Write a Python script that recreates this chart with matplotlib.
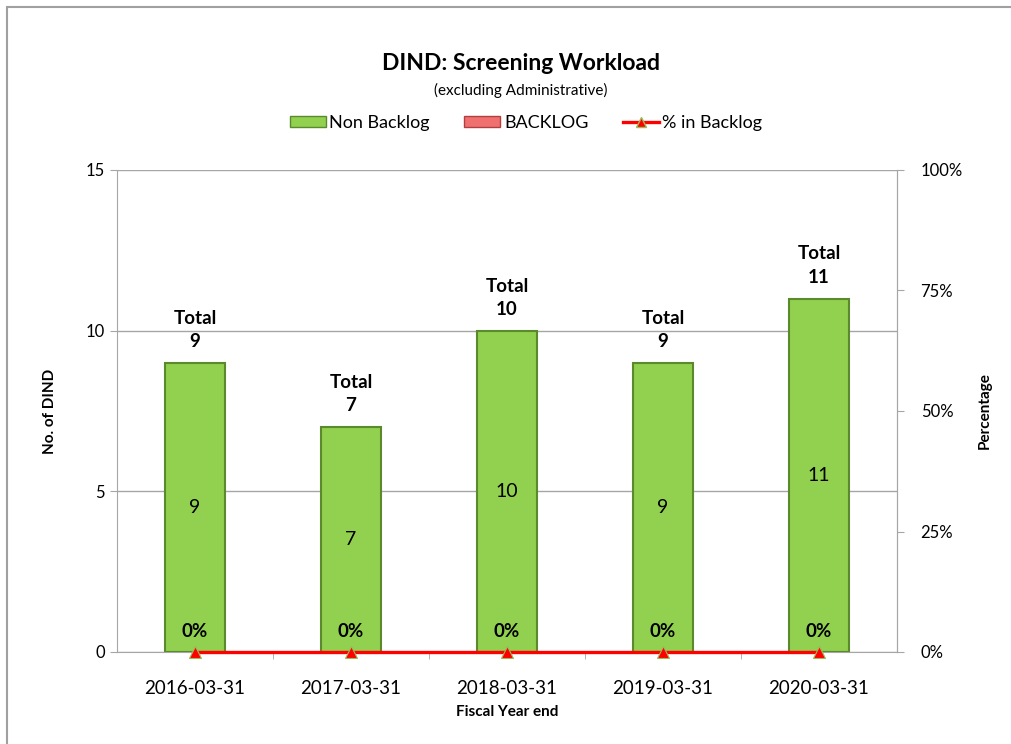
import matplotlib.pyplot as plt
from matplotlib.patches import Rectangle
from matplotlib.lines import Line2D
from matplotlib.ticker import FuncFormatter, FixedLocator

years = ["2016-03-31", "2017-03-31", "2018-03-31", "2019-03-31", "2020-03-31"]
non_backlog = [9, 7, 10, 9, 11]
backlog = [0, 0, 0, 0, 0]
pct_backlog = [0, 0, 0, 0, 0]

plt.rcParams['font.family'] = ['Lato', 'DejaVu Sans']

fig = plt.figure(figsize=(10.11, 7.44), dpi=100)
fig.patches.append(Rectangle((7 / 1011, -0.01), 1.02, (744 - 7) / 744 + 0.01,
                             transform=fig.transFigure, fill=False,
                             edgecolor='#a0a0a0', linewidth=1.5))

ax = fig.add_axes([117 / 1011, 92 / 744, 780 / 1011, 482 / 744])
x = list(range(len(years)))
totals = [a + b for a, b in zip(non_backlog, backlog)]

ax.bar(x, non_backlog, width=0.39, color='#92d050', edgecolor='#5a8a2c', linewidth=1.5, zorder=3)
ax.bar(x, backlog, bottom=non_backlog, width=0.39, color='#f07070', edgecolor='#b04040',
       linewidth=0, zorder=3)

ax.set_xlim(-0.5, len(years) - 0.5)
ax.set_ylim(0, 15)
ax.set_yticks([0, 5, 10, 15])
ax.set_xticks(x)
ax.set_xticklabels(years)
ax.xaxis.set_minor_locator(FixedLocator([i + 0.5 for i in range(len(years) - 1)]))
ax.grid(axis='y', color='#a6a6a6', linewidth=1, zorder=0)
ax.tick_params(axis='both', labelsize=12, colors='#a6a6a6', labelcolor='black', length=5)
ax.tick_params(axis='x', which='major', length=0, pad=20, labelsize=13.5)
ax.tick_params(axis='x', which='minor', length=5, colors='#a6a6a6')
ax.spines['top'].set_visible(False)
for s in ['left', 'right', 'bottom']:
    ax.spines[s].set_color('#a6a6a6')
ax.set_ylabel('No. of DIND', fontsize=11, fontweight='bold', labelpad=21)
ax.set_xlabel('Fiscal Year end', fontsize=11, fontweight='bold', labelpad=6)

for xi, v, t in zip(x, non_backlog, totals):
    ax.text(xi, v / 2, str(v), ha='center', va='center', fontsize=14, zorder=5)
    ax.text(xi, t + 0.4, f"Total\n{t}", ha='center', va='bottom', fontsize=13.5,
            fontweight='bold', linespacing=1.45, zorder=5)

ax2 = ax.twinx()
ax2.set_ylim(0, 1)
ax2.set_yticks([0, 0.25, 0.5, 0.75, 1.0])
ax2.yaxis.set_major_formatter(FuncFormatter(lambda v, p: f"{v * 100:.0f}%"))
ax2.tick_params(axis='y', labelsize=12, colors='#a6a6a6', labelcolor='black', length=5, pad=12)
for s in ['top', 'bottom', 'left']:
    ax2.spines[s].set_visible(False)
ax2.spines['right'].set_color('#a6a6a6')
ax2.plot(x, pct_backlog, color='#ff0000', linewidth=2.4, marker='^', markersize=8,
         markerfacecolor='#ff0000', markeredgecolor='#9bbb59', markeredgewidth=0.8,
         clip_on=False, zorder=6)
ax2.set_ylabel('Percentage', fontsize=11, fontweight='bold', labelpad=11)
for xi, p in zip(x, pct_backlog):
    ax2.text(xi, p + 0.025, f"{p * 100:.0f}%", ha='center', va='bottom', fontsize=13.5,
             fontweight='bold', zorder=7)

fig.text(521 / 1011, 1 - 63 / 744, 'DIND: Screening Workload', ha='center', va='center',
         fontsize=16.5, fontweight='bold')
fig.text(521 / 1011, 1 - 90 / 744, '(excluding Administrative)', ha='center', va='center',
         fontsize=11)

handles = [
    Rectangle((0, 0), 1, 1, facecolor='#92d050', edgecolor='#5a8a2c'),
    Rectangle((0, 0), 1, 1, facecolor='#f07070', edgecolor='#b04040'),
    Line2D([], [], color='#ff0000', linewidth=2.4, marker='^', markersize=7,
           markerfacecolor='#ff0000', markeredgecolor='#9bbb59'),
]
fig.legend(handles, ['Non Backlog', 'BACKLOG', '% in Backlog'], loc='center',
           bbox_to_anchor=(526 / 1011, 1 - 123 / 744), ncol=3, frameon=False,
           fontsize=13, handlelength=2.0, handleheight=0.6, handletextpad=0.2,
           columnspacing=1.9)

fig.savefig('out.png', dpi=100)
